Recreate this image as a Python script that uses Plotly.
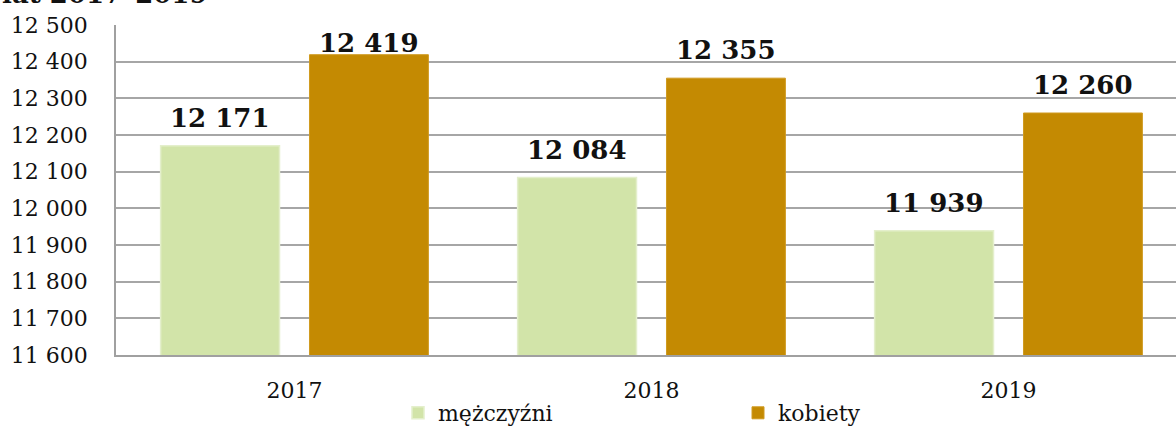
import plotly.graph_objects as go

years = ["2017", "2018", "2019"]
men = [12171, 12084, 11939]
women = [12419, 12355, 12260]
series_names = ["mężczyźni", "kobiety"]
title_text = "lat 2017–2019"

FONT = "DejaVu Serif"
L, T, B = 116, 25, 75
W, H = 1176, 430
plot_h = H - T - B
Y0, Y1 = 11600, 12500
CAT_PX = 357
BAR_W = 0.333
OFFS = [-0.375, 0.042]

fig = go.Figure()
styles = [
    dict(color="#D2E4A9", line=dict(color="#E4EFCC", width=1.5)),
    dict(color="#C48A02", line=dict(color="#D09A20", width=1)),
]
annotations = []
for vals, name, st, off in zip([men, women], series_names, styles, OFFS):
    fig.add_trace(go.Bar(
        x=years, y=vals, name=name, marker=st,
        width=BAR_W, offset=off,
    ))
    for i, v in enumerate(vals):
        top_px = T + (Y1 - v) / (Y1 - Y0) * plot_h
        baseline = max(top_px - 18, T + 28)
        annotations.append(dict(
            x=i + off + BAR_W / 2, y=v, xref="x", yref="y",
            xanchor="center",
            yanchor="bottom", yshift=float(top_px - baseline - 7),
            text="<b>" + f"{v:,}".replace(",", " ") + "</b>",
            showarrow=False,
            font=dict(family=FONT, size=26, color="#111111"),
        ))

annotations.append(dict(
    text="<b>" + title_text + "</b>", xref="paper", yref="paper",
    x=-L / (W - L), xanchor="left",
    y=(H - B + 6) / plot_h, yanchor="middle",
    showarrow=False, font=dict(family=FONT, size=26, color="#111111"),
))

fig.update_layout(
    width=W, height=H,
    margin=dict(l=L, r=0, t=T, b=B, pad=0, autoexpand=False),
    paper_bgcolor="white", plot_bgcolor="white",
    separators=", ",
    font=dict(family=FONT, size=22, color="#111111"),
    barmode="group",
    showlegend=True,
    legend=dict(
        orientation="h", x=(398 - L) / (W - L), xanchor="left",
        y=(H - B - 392) / plot_h, yanchor="top",
        entrywidth=295, entrywidthmode="pixels",
        bgcolor="rgba(0,0,0,0)",
        font=dict(family=FONT, size=22, color="#111111"),
        itemwidth=30, tracegroupgap=0,
    ),
    xaxis=dict(
        type="category", range=[-0.5, 2.5 - 11 / CAT_PX],
        showgrid=False, showline=True, linecolor="#A0A0A0", linewidth=1.5,
        ticks="", ticklabelstandoff=15,
        tickfont=dict(family=FONT, size=22, color="#111111"),
    ),
    yaxis=dict(
        range=[Y0, Y1], dtick=100, tick0=Y0,
        tickformat=",d",
        showgrid=True, gridcolor="#A6A6A6", gridwidth=1.5,
        showline=True, linecolor="#A0A0A0", linewidth=1.5,
        ticks="", ticklabelstandoff=22,
        tickfont=dict(family=FONT, size=22, color="#111111"),
        zeroline=False,
    ),
    annotations=annotations,
)

fig.write_html("out.html")
